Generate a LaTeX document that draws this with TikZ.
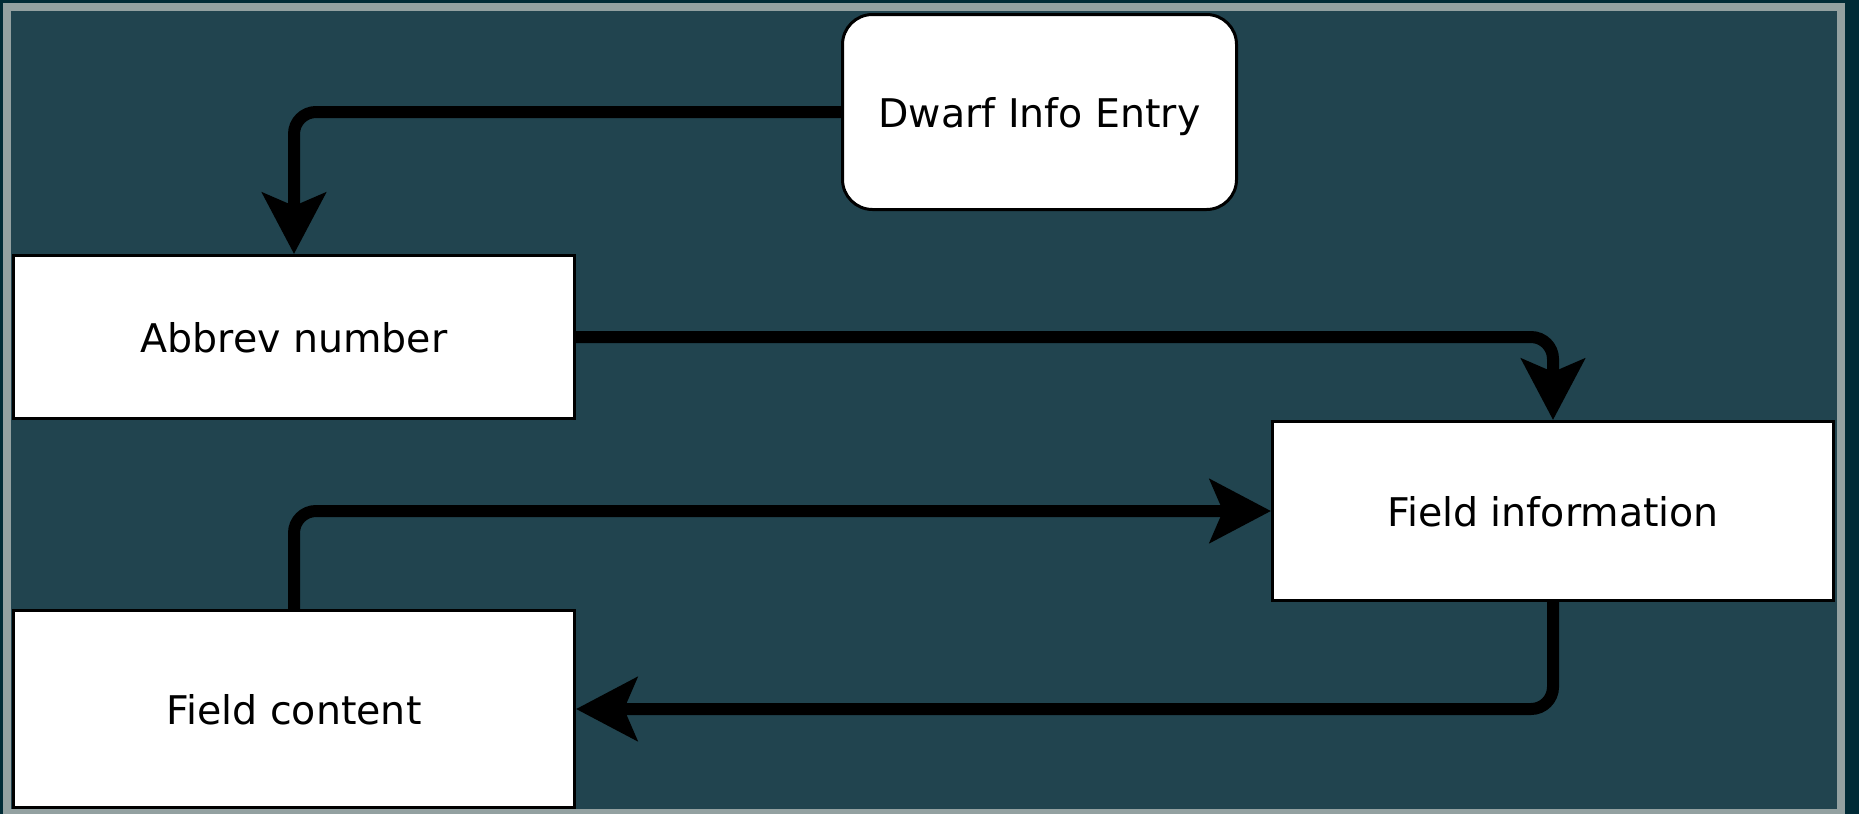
\documentclass[tikz,border=0pt]{standalone}
\usepackage{fontspec}
\setmainfont{DejaVu Sans}
\usetikzlibrary{arrows.meta}
\definecolor{outerbg}{HTML}{002B36}
\definecolor{framegrey}{HTML}{93A1A1}
\definecolor{panel}{HTML}{21444F}
\tikzset{
  box/.style={draw=black, line width=3pt, fill=white, inner sep=0pt,
    text depth=0pt, font=\fontsize{39.5}{46}\selectfont, text=black},
  conn/.style={draw=black, line width=12pt, rounded corners=22pt,
    -{Stealth[length=61pt,width=63pt,inset=13pt]}}
}
\begin{document}
\begin{tikzpicture}[x=1pt,y=-1pt]
\useasboundingbox (0,0) rectangle (1859,814);
\fill[outerbg] (0,0) rectangle (1859,814);
\fill[framegrey] (3,3) rectangle (1845,814);
\fill[panel] (11,11) rectangle (1837,809);

\node[box, rounded corners=30pt, minimum width=394pt, minimum height=195pt] (dwarf) at (1039.5,112) {Dwarf Info Entry};
\node[box, minimum width=561pt, minimum height=163pt] (abbrev) at (294,337) {Abbrev number};
\node[box, minimum width=561pt, minimum height=179pt] (finfo) at (1553,511) {Field information};
\node[box, minimum width=561pt, minimum height=197pt] (fcontent) at (294,709) {Field content};

\draw[conn] (dwarf.west) -| (abbrev.north);
\draw[conn] (abbrev.east) -| (finfo.north);
\draw[conn] (fcontent.north) |- (finfo.west);
\draw[conn] (finfo.south) |- (fcontent.east);
\end{tikzpicture}
\end{document}
